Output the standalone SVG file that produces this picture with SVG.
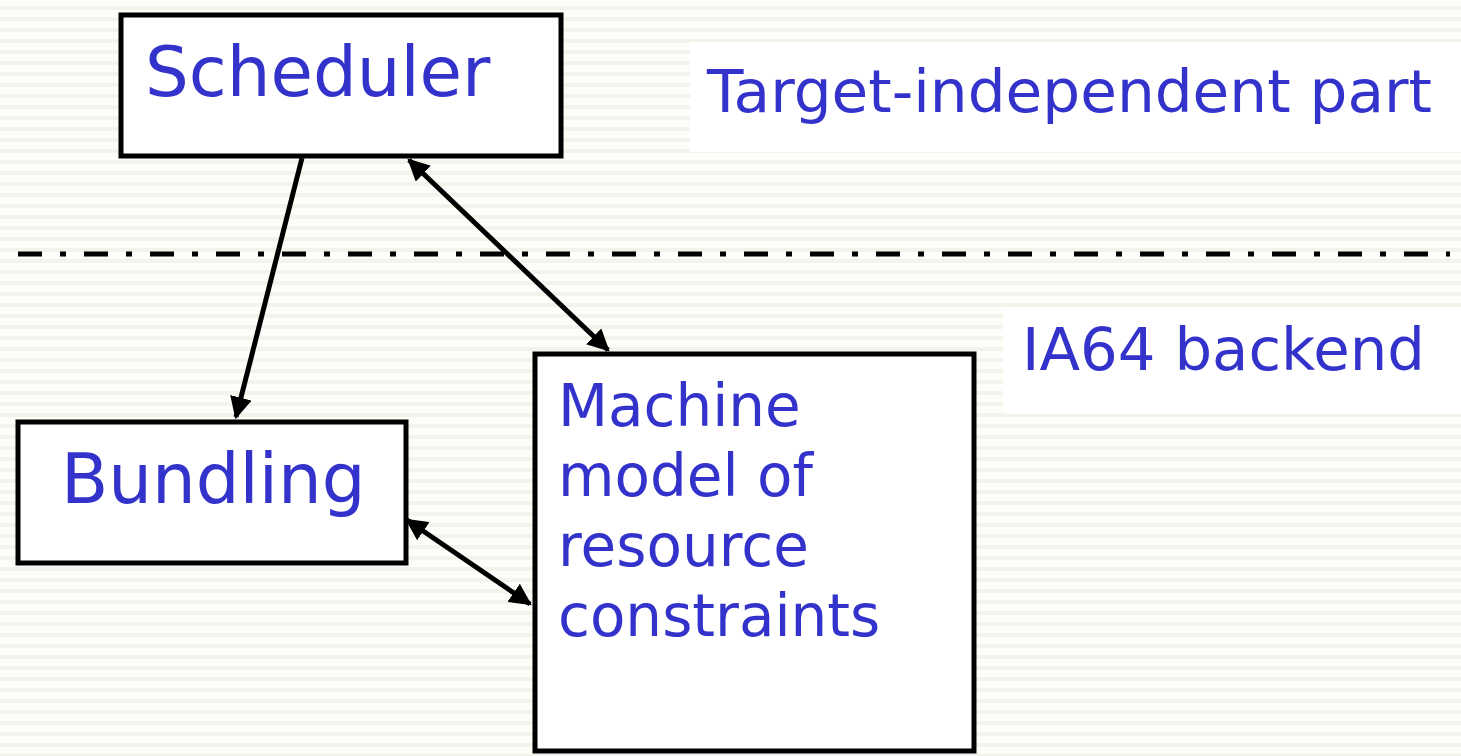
<svg xmlns="http://www.w3.org/2000/svg" width="1461" height="756" viewBox="0 0 1461 756">
<style>
.box{fill:#ffffff;stroke:#000000;stroke-width:5}
.lbl{fill:#3333cc;font-family:"DejaVu Sans",Verdana,sans-serif}
.big{font-size:69px}
.mid{font-size:58px}
.conn{stroke:#000000;stroke-width:5;fill:none}
</style>
<defs>
<pattern id="stripes" width="20" height="11" patternUnits="userSpaceOnUse">
<rect width="20" height="11" fill="#fdfdf9"/>
<rect y="6" width="20" height="4" fill="#f3f3ec"/>
</pattern>
<marker id="ah" viewBox="0 0 10 10" refX="9" refY="5" markerWidth="4.4" markerHeight="4.4" markerUnits="strokeWidth" orient="auto-start-reverse">
<path d="M0,0 L10,5 L0,10 z" fill="#000000"/>
</marker>
</defs>
<rect width="1461" height="756" fill="url(#stripes)"/>
<rect x="690" y="42" width="771" height="110" fill="#ffffff"/>
<rect x="1003" y="307" width="458" height="107" fill="#ffffff"/>
<line x1="18" y1="254" x2="1450" y2="254" stroke="#000000" stroke-width="5" stroke-dasharray="24 18 6 18"/>
<g id="connectors">
<line class="conn" x1="302" y1="158" x2="236" y2="417" marker-end="url(#ah)"/>
<line class="conn" x1="409" y1="160" x2="608" y2="350" marker-start="url(#ah)" marker-end="url(#ah)"/>
<line class="conn" x1="407" y1="520" x2="530" y2="604" marker-start="url(#ah)" marker-end="url(#ah)"/>
</g>
<g id="scheduler">
<rect class="box" x="121" y="15" width="440" height="141"/>
<text class="lbl big" x="145" y="96">Scheduler</text>
</g>
<g id="bundling">
<rect class="box" x="18" y="422" width="388" height="141"/>
<text class="lbl big" x="61" y="503">Bundling</text>
</g>
<g id="machine">
<rect class="box" x="535" y="354" width="439" height="397"/>
<text class="lbl mid" x="558" y="426">Machine</text>
<text class="lbl mid" x="558" y="496">model of</text>
<text class="lbl mid" x="558" y="566">resource</text>
<text class="lbl mid" x="558" y="636">constraints</text>
</g>
<g id="label-target">
<text class="lbl mid" x="707" y="112" textLength="725" lengthAdjust="spacingAndGlyphs">Target-independent part</text>
</g>
<g id="label-ia64">
<text class="lbl mid" x="1022" y="370" textLength="403" lengthAdjust="spacingAndGlyphs">IA64 backend</text>
</g>
</svg>
